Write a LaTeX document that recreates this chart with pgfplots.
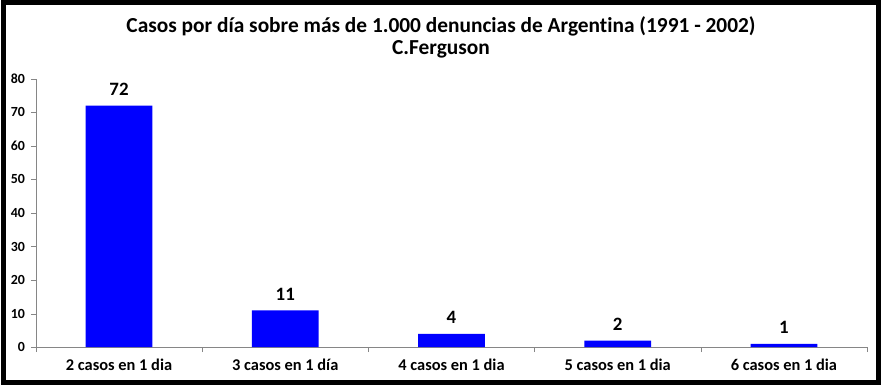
\documentclass[border=0pt]{standalone}
\usepackage{pgfplots}
\pgfplotsset{compat=1.18}
\usepackage{fontspec}
\setmainfont{Carlito}[Ligatures=NoCommon]
\definecolor{axisgray}{RGB}{134,134,134}
\definecolor{barblue}{RGB}{0,0,255}
\begin{document}
\begin{tikzpicture}[x=1bp,y=1bp]
\draw[line width=5bp] (2.5,2.5) rectangle (879.5,383.5);
\draw[line width=2bp] (0,1) -- (882,1);
\node[font=\bfseries\fontsize{21.5}{24}\selectfont] at (441,360) {Casos por día sobre más de 1.000 denuncias de Argentina (1991 - 2002)};
\node[font=\bfseries\fontsize{21.5}{24}\selectfont] at (441,337) {C.Ferguson};
\begin{axis}[
  at={(35bp,38bp)}, anchor=south west,
  scale only axis, width=833bp, height=269bp,
  xmin=-0.5, xmax=4.5, ymin=0, ymax=80,
  axis x line*=bottom, axis y line*=left,
  axis line style={draw=axisgray, -},
  ytick={0,10,...,80},
  xtick={0,1,2,3,4},
  xticklabels={2 casos en 1 dia,3 casos en 1 día,4 casos en 1 dia,5 casos en 1 dia,6 casos en 1 dia},
  minor xtick={-0.5,0.5,1.5,2.5,3.5,4.5},
  tick align=outside,
  major tick length=5bp, minor tick length=5bp,
  x tick style={draw=none},
  minor x tick style={draw=axisgray},
  y tick style={draw=axisgray},
  /pgf/number format/assume math mode=true,
  yticklabel style={font=\bfseries\fontsize{14}{15}\selectfont, xshift=-2.5bp},
  xticklabel style={font=\bfseries\fontsize{16.5}{18}\selectfont, yshift=-3bp},
  ybar, bar width=67bp,
  nodes near coords,
  every node near coord/.append style={font=\bfseries\fontsize{19}{21}\selectfont, black, yshift=6.5bp},
]
\addplot[fill=barblue, draw=none] coordinates {(0,72) (1,11) (2,4) (3,2) (4,1)};
\end{axis}
\end{tikzpicture}
\end{document}
